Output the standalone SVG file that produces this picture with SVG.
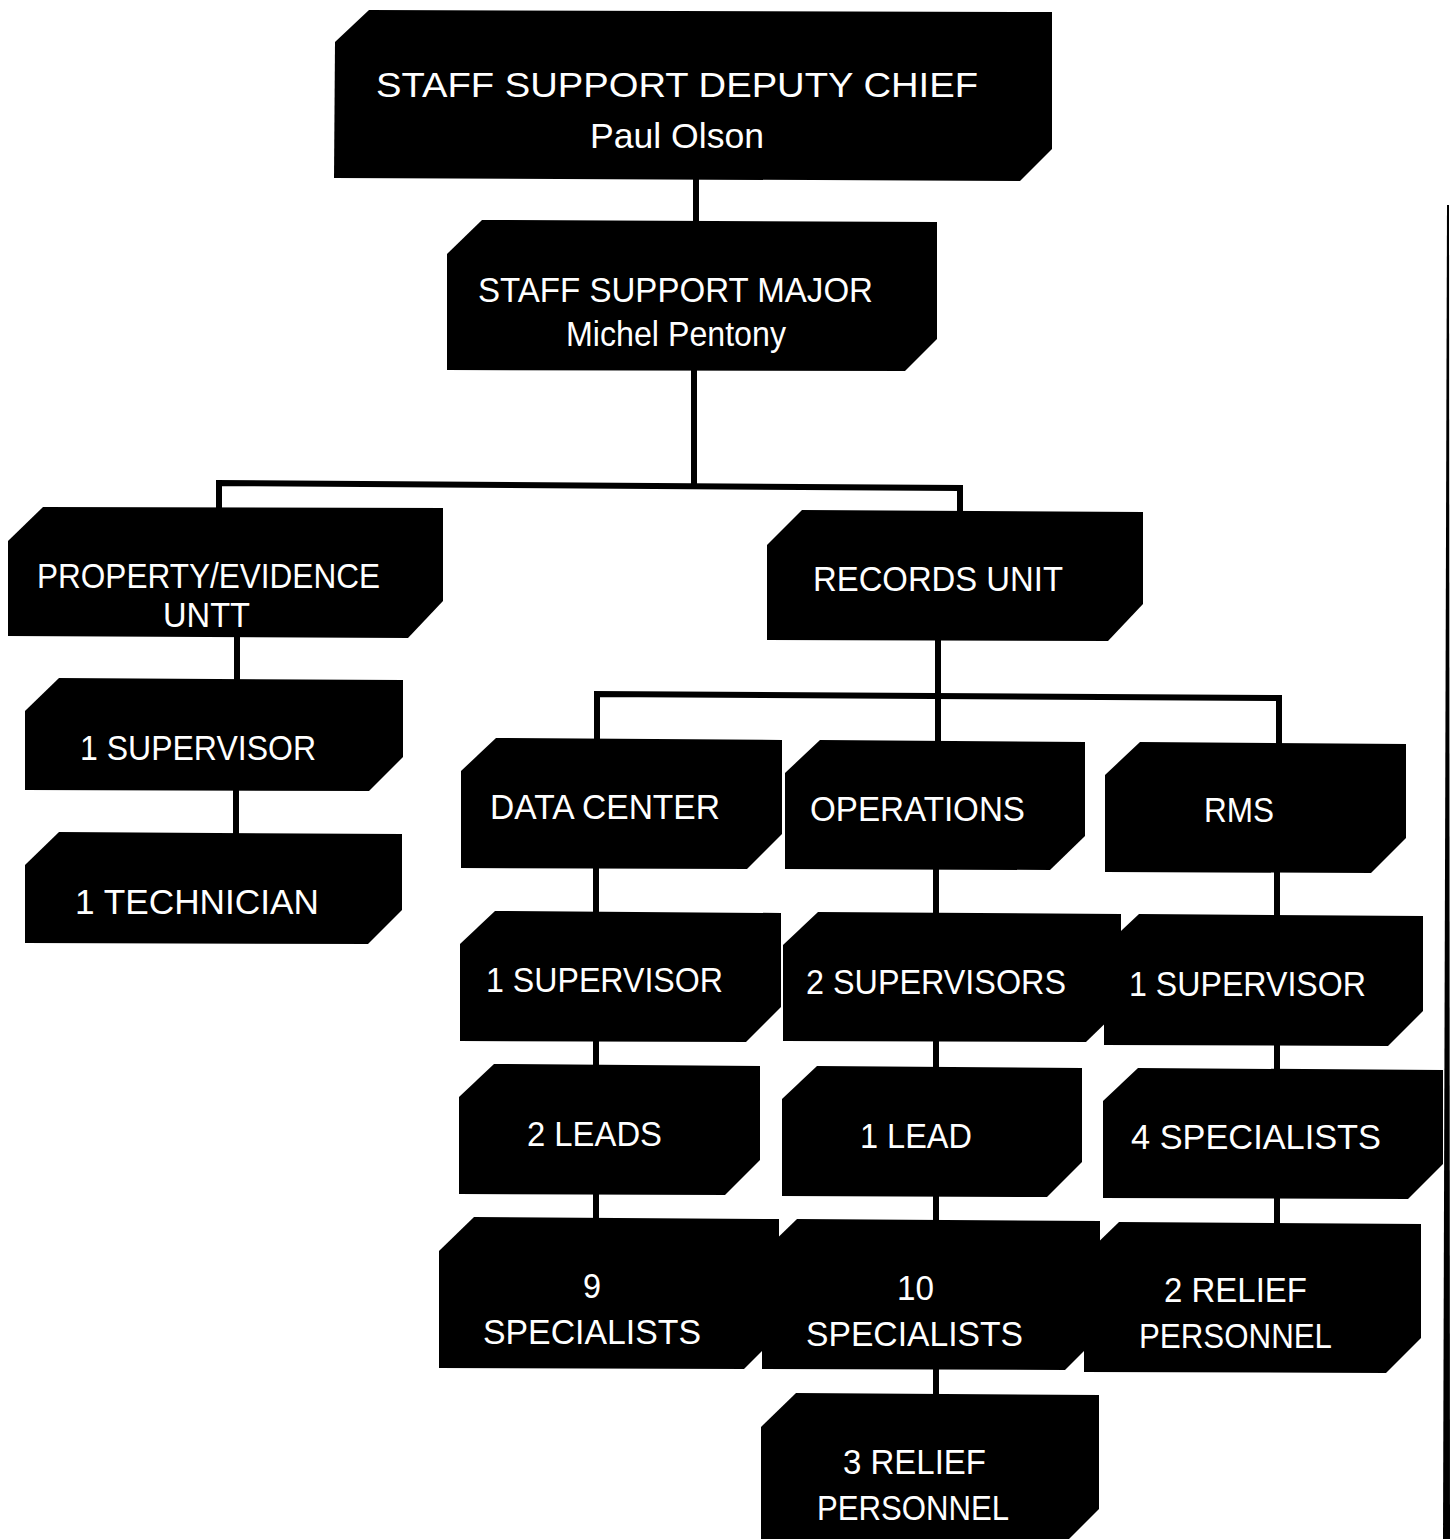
<svg xmlns="http://www.w3.org/2000/svg" width="1450" height="1539" viewBox="0 0 1450 1539">
<style>
.n{fill:#000}
.t{fill:#fff;font-family:"Liberation Sans","DejaVu Sans",sans-serif;font-size:35px}
.c{stroke:#000;stroke-width:6;fill:none}
</style>
<rect width="1450" height="1539" fill="#fff"/>
<g id="connectors">
<polyline class="c" points="696,178 696,222"/>
<polyline class="c" points="694,369 694,485"/>
<polyline class="c" points="219,509 219,483 960,488 960,513"/>
<polyline class="c" points="237,636 237,680"/>
<polyline class="c" points="236,789 236,834"/>
<polyline class="c" points="938,639 938,742"/>
<polyline class="c" points="597,740 597,694 1279,698 1279,744"/>
<polyline class="c" points="596,867 596,913"/>
<polyline class="c" points="596,1040 596,1066"/>
<polyline class="c" points="596,1193 596,1219"/>
<polyline class="c" points="936,868 936,914"/>
<polyline class="c" points="936,1040 936,1068"/>
<polyline class="c" points="936,1195 936,1221"/>
<polyline class="c" points="936,1368 936,1395"/>
<polyline class="c" points="1277,871 1277,916"/>
<polyline class="c" points="1277,1044 1277,1070"/>
<polyline class="c" points="1277,1197 1277,1224"/>
</g>
<polygon points="1447,205 1449,205 1450,1539 1443,1539" fill="#000"/>
<g id="deputy-chief">
<polygon class="n" points="335,42 369,10 1052,12 1052,149 1020,181 334,178"/>
<text class="t" x="376" y="97" textLength="602" lengthAdjust="spacingAndGlyphs" font-size="38">STAFF SUPPORT DEPUTY CHIEF</text>
<text class="t" x="590" y="148" textLength="174" lengthAdjust="spacingAndGlyphs" font-size="37">Paul Olson</text>
</g>
<g id="major">
<polygon class="n" points="447,254 482,220 937,222 937,339 905,371 447,370"/>
<text class="t" x="478" y="302" textLength="395" lengthAdjust="spacingAndGlyphs">STAFF SUPPORT MAJOR</text>
<text class="t" x="566" y="346" textLength="220" lengthAdjust="spacingAndGlyphs">Michel Pentony</text>
</g>
<g id="property">
<polygon class="n" points="8,541 43,507 443,508 443,601 408,638 8,636"/>
<text class="t" x="37" y="588" textLength="343" lengthAdjust="spacingAndGlyphs">PROPERTY/EVIDENCE</text>
<text class="t" x="163" y="627" textLength="87" lengthAdjust="spacingAndGlyphs">UNTT</text>
</g>
<g id="records">
<polygon class="n" points="767,545 802,510 1143,512 1143,604 1108,641 767,640"/>
<text class="t" x="813" y="591" textLength="250" lengthAdjust="spacingAndGlyphs">RECORDS UNIT</text>
</g>
<g id="pe-supervisor">
<polygon class="n" points="25,711 59,678 403,680 403,757 369,791 25,790"/>
<text class="t" x="80" y="760" textLength="236" lengthAdjust="spacingAndGlyphs">1 SUPERVISOR</text>
</g>
<g id="pe-technician">
<polygon class="n" points="25,865 59,832 402,834 402,910 368,944 25,943"/>
<text class="t" x="75" y="914" textLength="244" lengthAdjust="spacingAndGlyphs">1 TECHNICIAN</text>
</g>
<g id="data-center">
<polygon class="n" points="461,771 496,738 782,740 782,834 747,869 461,868"/>
<text class="t" x="490" y="819" textLength="230" lengthAdjust="spacingAndGlyphs">DATA CENTER</text>
</g>
<g id="operations">
<polygon class="n" points="785,773 820,740 1085,742 1085,836 1050,870 785,869"/>
<text class="t" x="810" y="821" textLength="215" lengthAdjust="spacingAndGlyphs">OPERATIONS</text>
</g>
<g id="rms">
<polygon class="n" points="1105,775 1140,742 1406,744 1406,838 1371,873 1105,872"/>
<text class="t" x="1204" y="822" textLength="70" lengthAdjust="spacingAndGlyphs">RMS</text>
</g>
<g id="dc-supervisor">
<polygon class="n" points="460,944 495,911 781,913 781,1007 746,1042 460,1041"/>
<text class="t" x="486" y="992" textLength="237" lengthAdjust="spacingAndGlyphs">1 SUPERVISOR</text>
</g>
<g id="ops-supervisors">
<polygon class="n" points="783,945 818,912 1121,914 1121,1008 1086,1042 783,1041"/>
<text class="t" x="806" y="994" textLength="260" lengthAdjust="spacingAndGlyphs">2 SUPERVISORS</text>
</g>
<g id="rms-supervisor">
<polygon class="n" points="1104,947 1139,914 1423,916 1423,1011 1388,1046 1104,1045"/>
<text class="t" x="1129" y="996" textLength="237" lengthAdjust="spacingAndGlyphs">1 SUPERVISOR</text>
</g>
<g id="dc-leads">
<polygon class="n" points="459,1097 494,1064 760,1066 760,1160 725,1195 459,1194"/>
<text class="t" x="527" y="1146" textLength="135" lengthAdjust="spacingAndGlyphs">2 LEADS</text>
</g>
<g id="ops-lead">
<polygon class="n" points="782,1099 817,1066 1082,1068 1082,1162 1047,1197 782,1196"/>
<text class="t" x="860" y="1148" textLength="112" lengthAdjust="spacingAndGlyphs">1 LEAD</text>
</g>
<g id="rms-specialists">
<polygon class="n" points="1103,1101 1138,1068 1443,1070 1443,1164 1408,1199 1103,1198"/>
<text class="t" x="1131" y="1149" textLength="250" lengthAdjust="spacingAndGlyphs">4 SPECIALISTS</text>
</g>
<g id="dc-specialists">
<polygon class="n" points="439,1251 474,1217 779,1219 779,1334 744,1369 439,1368"/>
<text class="t" x="583" y="1298" textLength="18" lengthAdjust="spacingAndGlyphs">9</text>
<text class="t" x="483" y="1344" textLength="218" lengthAdjust="spacingAndGlyphs">SPECIALISTS</text>
</g>
<g id="ops-specialists">
<polygon class="n" points="762,1253 797,1219 1100,1221 1100,1335 1065,1370 762,1369"/>
<text class="t" x="897" y="1300" textLength="37" lengthAdjust="spacingAndGlyphs">10</text>
<text class="t" x="806" y="1346" textLength="217" lengthAdjust="spacingAndGlyphs">SPECIALISTS</text>
</g>
<g id="rms-relief">
<polygon class="n" points="1084,1256 1119,1222 1421,1224 1421,1338 1386,1373 1084,1372"/>
<text class="t" x="1164" y="1302" textLength="143" lengthAdjust="spacingAndGlyphs">2 RELIEF</text>
<text class="t" x="1139" y="1348" textLength="193" lengthAdjust="spacingAndGlyphs">PERSONNEL</text>
</g>
<g id="ops-relief">
<polygon class="n" points="761,1427 796,1393 1099,1395 1099,1509 1069,1539 761,1539"/>
<text class="t" x="843" y="1474" textLength="143" lengthAdjust="spacingAndGlyphs">3 RELIEF</text>
<text class="t" x="817" y="1520" textLength="192" lengthAdjust="spacingAndGlyphs">PERSONNEL</text>
</g>
</svg>
